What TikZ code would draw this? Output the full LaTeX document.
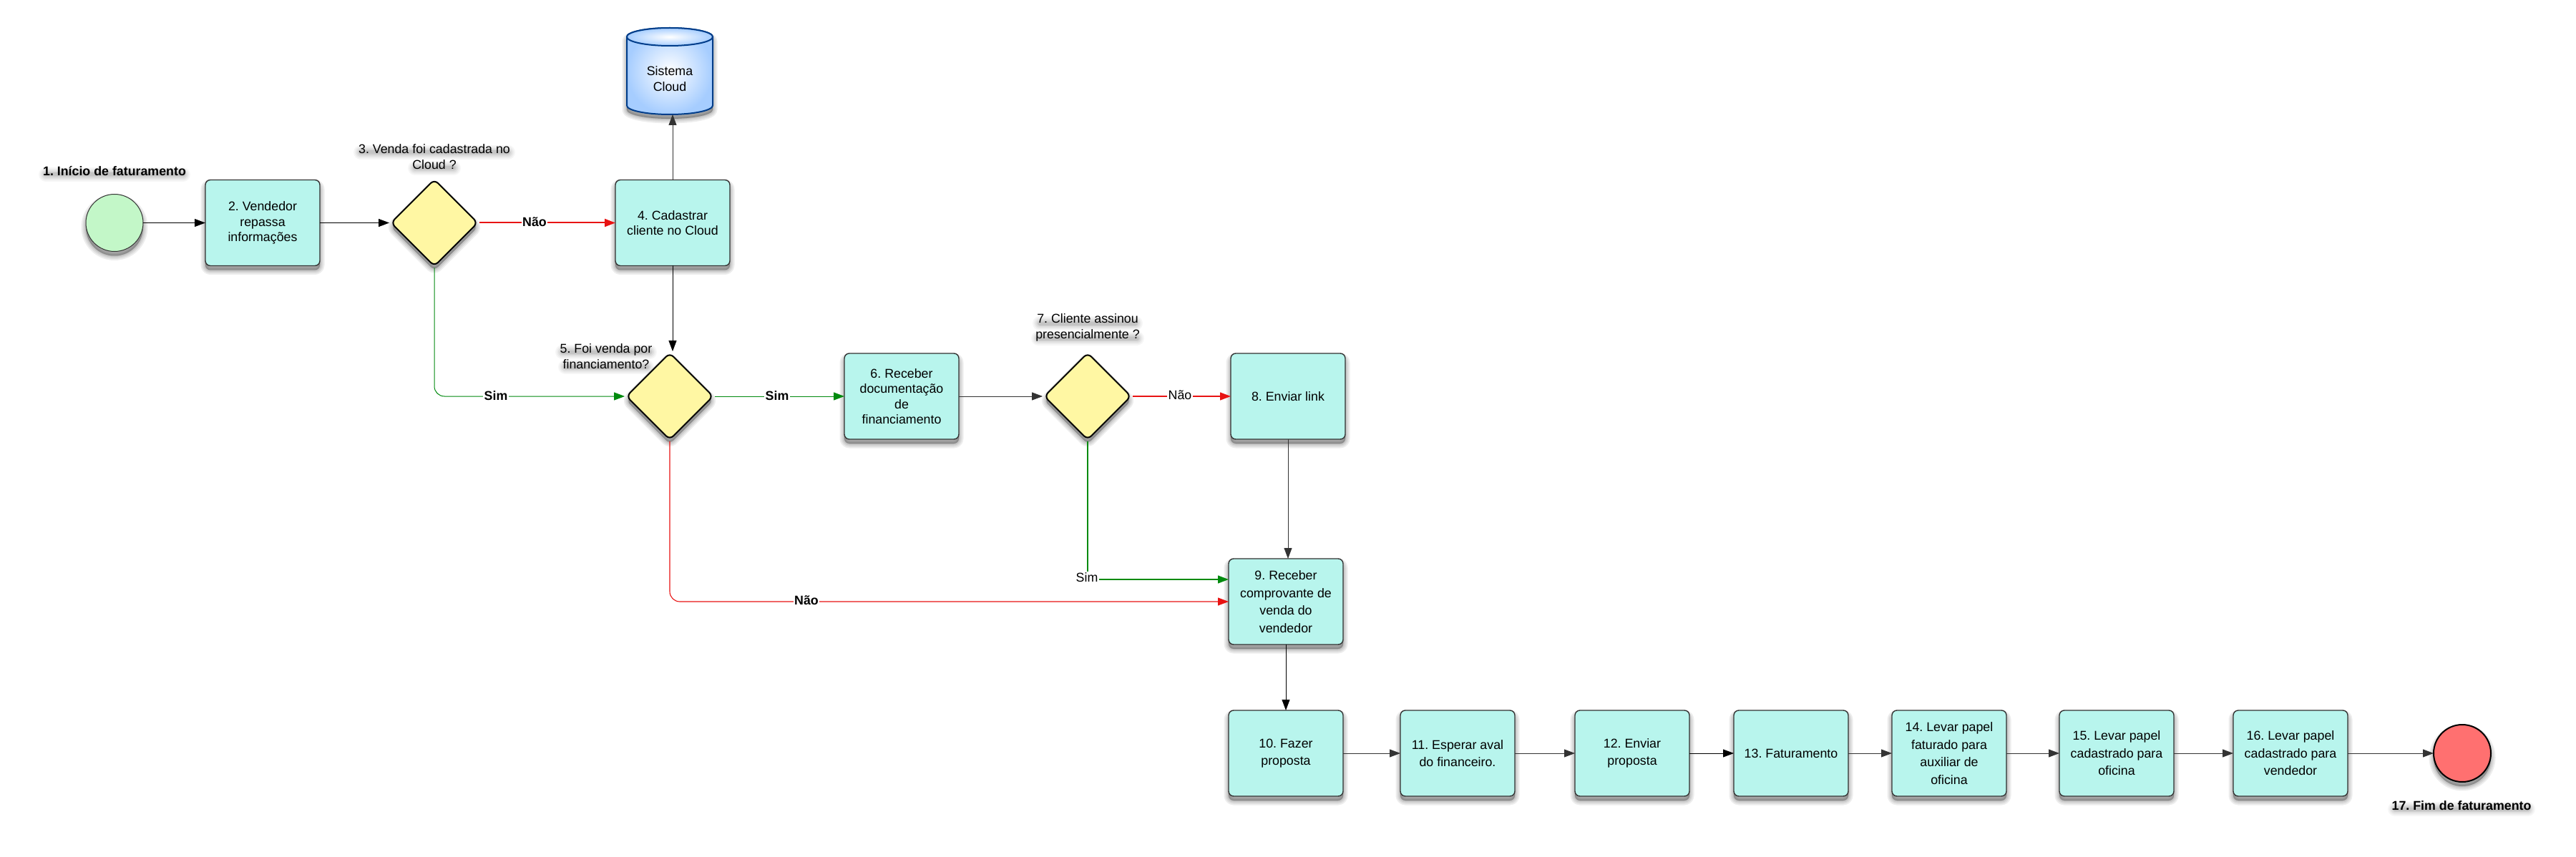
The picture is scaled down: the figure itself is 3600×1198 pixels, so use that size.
\documentclass[tikz,border=0pt]{standalone}
\usepackage{fontspec}
\setmainfont{Liberation Sans}
\frenchspacing
\usetikzlibrary{arrows.meta,shapes.geometric}
\definecolor{boxfill}{HTML}{B8F5ED}
\definecolor{boxline}{HTML}{333333}
\definecolor{decfill}{HTML}{FFF7A3}
\definecolor{startfill}{HTML}{C3F7C8}
\definecolor{endfill}{HTML}{FF7070}
\definecolor{cylline}{HTML}{003D8A}
\definecolor{cylfill}{HTML}{A6CDFF}
\definecolor{lnred}{HTML}{E81313}
\definecolor{lngreen}{HTML}{008A0E}
\newcommand{\hazeln}[3]{%
  \foreach \hw/\hop in {10pt/.035,8pt/.04,6pt/.05,4pt/.06,2.5pt/.06}{%
    \draw[black,opacity=\hop,line width=\hw,line cap=round] (#1,#3+5) -- (#2,#3+5);}}
\tikzset{
  softshadow/.style={
    preaction={draw=black,fill=black,opacity=.07,line width=6.5pt,line join=round,transform canvas={yshift=-3pt}},
    preaction={draw=black,fill=black,opacity=.07,line width=4.5pt,line join=round,transform canvas={yshift=-3pt}},
    preaction={draw=black,fill=black,opacity=.08,line width=2.5pt,line join=round,transform canvas={yshift=-3pt}},
    preaction={draw=black,fill=black,opacity=.08,line width=.8pt,line join=round,transform canvas={yshift=-3pt}}},
  every node/.style={outer sep=0pt,font=\fontsize{8.9}{10.75}\selectfont},
  boxn/.style={rectangle,rounded corners=3.5pt,draw=boxline,line width=.7pt,fill=boxfill,
    minimum width=80pt,minimum height=60pt,align=center,inner sep=0pt,softshadow},
  widelead/.style={font=\fontsize{8.9}{12.3}\selectfont},
  dec/.style={diamond,aspect=1,rounded corners=3.5pt,draw=black,line width=1pt,fill=decfill,
    minimum width=60.5pt,minimum height=60.5pt,inner sep=0pt,softshadow},
  txt/.style={align=center,inner sep=0pt},
  txtb/.style={txt,font=\fontsize{8.9}{10.75}\selectfont\bfseries},
  lbl/.style={fill=white,inner sep=.6pt},
  lblb/.style={lbl,font=\fontsize{8.9}{10.75}\selectfont\bfseries},
  conn/.style={-{Triangle[length=7.5pt,width=5.5pt]},draw=#1,line width=.45pt},
  conn/.default=boxline,
  fromd/.style={shorten <=1.2pt},
  tod/.style={shorten >=1.2pt},
}
\begin{document}
\begin{tikzpicture}[x=0.5pt,y=-0.5pt]
\useasboundingbox[fill=white] (0,0) rectangle (3600,1198);

% cylinder
\path[softshadow] (876,51.5) -- (876,147.5) arc[start angle=180,end angle=0,x radius=60,y radius=12.5] -- (996,51.5) arc[start angle=0,end angle=-180,x radius=60,y radius=12.5] -- cycle;
\path[draw=cylline,line width=1pt,inner color=white,outer color=cylfill,shade] (876,51.5) -- (876,147.5) arc[start angle=180,end angle=0,x radius=60,y radius=12.5] -- (996,51.5) arc[start angle=0,end angle=-180,x radius=60,y radius=12.5] -- cycle;
\path[draw=cylline,line width=1pt,inner color=white,outer color=cylfill,shade] (936,51.5) ellipse[x radius=60,y radius=12.5];
\node[align=center,inner sep=0pt,minimum width=60pt,minimum height=50pt] (cl) at (936,110) {Sistema\\Cloud};

% text shadows
\hazeln{64}{256}{239}
\hazeln{504}{710}{208}
\hazeln{580}{634}{230}
\hazeln{786}{908}{487}
\hazeln{790}{904}{508}
\hazeln{1453}{1587}{447}
\hazeln{1451}{1589}{468}
\hazeln{3347}{3533}{1126}

% nodes
\node[circle,draw=boxline,line width=.5pt,fill=startfill,minimum size=40pt,inner sep=0pt,softshadow] (s1) at (160,311.5) {};
\node[boxn] (b2) at (367,311.5) {2. Vendedor\\repassa\\informações};
\node[dec] (d3) at (607,311.5) {};
\node[boxn] (b4) at (940,311.5) {4. Cadastrar\\cliente no Cloud};
\node[dec] (d5) at (936,554) {};
\node[boxn] (b6) at (1260,554) {6. Receber\\documentação\\de\\financiamento};
\node[dec] (d7) at (1520,554) {};
\node[boxn] (b8) at (1800,554) {8. Enviar link};
\node[boxn,widelead] (b9) at (1797,841) {9. Receber\\comprovante de\\venda do\\vendedor};
\node[boxn,widelead] (b10) at (1797,1053) {10. Fazer\\proposta};
\node[boxn,widelead] (b11) at (2037,1053) {11. Esperar aval\\do financeiro.};
\node[boxn,widelead] (b12) at (2281,1053) {12. Enviar\\proposta};
\node[boxn,widelead] (b13) at (2503,1053) {13. Faturamento};
\node[boxn,widelead] (b14) at (2724,1053) {14. Levar papel\\faturado para\\auxiliar de\\oficina};
\node[boxn,widelead] (b15) at (2958,1053) {15. Levar papel\\cadastrado para\\oficina};
\node[boxn,widelead] (b16) at (3201,1053) {16. Levar papel\\cadastrado para\\vendedor};
\node[circle,draw=black,line width=1pt,fill=endfill,minimum size=40pt,inner sep=0pt,softshadow] (e17) at (3441,1053) {};

% free ends
\coordinate (g9) at (1717,810);
\coordinate (r9) at (1717,841);

% connectors
\draw[conn=black] (s1) -- (b2);
\draw[conn=black,tod] (b2) -- (d3.west);
\draw[conn=lnred,line width=1pt,fromd] (d3.east) -- (b4.west);
\draw[conn=lngreen,line width=.5pt,rounded corners=7pt,fromd,tod] (d3.south) |- (d5.west);
\draw[conn] (b4.north) -- (b4.north |- cl.south);
\draw[conn=black,tod] (b4.south) -- (b4.south |- d5.north);
\draw[conn=lngreen,line width=.5pt,fromd] (d5.east) -- (d5.east -| b6.west);
\draw[conn,tod] (b6.east |- d7.west) -- (d7.west);
\draw[conn=lnred,line width=.6pt,fromd] (d7.east) -- (b8.west);
\draw[conn] (b8.south) -- (b8.south |- b9.north);
\draw[conn=lngreen,line width=.6pt,fromd] (d7.south) |- (g9);
\draw[conn=lnred,line width=.55pt,rounded corners=7pt,fromd] (d5.south) |- (r9);
\draw[conn=black] (b9.south) -- (b10.north);
\draw[conn] (b10) -- (b11);
\draw[conn] (b11) -- (b12);
\draw[conn=black] (b12) -- (b13);
\draw[conn] (b13) -- (b14);
\draw[conn] (b14) -- (b15);
\draw[conn] (b15) -- (b16);
\draw[conn] (b16) -- (e17);

% connector labels
\node[lblb] (l3n) at (747,310) {Não};
\node[lblb] (l3s) at (693,553) {Sim};
\node[lblb] (l5s) at (1086,553) {Sim};
\node[lblb] (l5n) at (1127,839) {Não};
\node[lbl] (l7n) at (1649,552) {Não};
\node[lbl] (l7s) at (1519,807) {Sim};

% free labels
\node[txtb] (t1) at (160,239) {1. Início de faturamento};
\node[txt] (t3) at (607,219) {3. Venda foi cadastrada no\\Cloud ?};
\node[txt] (t5) at (847,498) {5. Foi venda por\\financiamento?};
\node[txt] (t7) at (1520,458) {7. Cliente assinou\\presencialmente ?};
\node[txtb] (t17) at (3440,1126) {17. Fim de faturamento};
\end{tikzpicture}
\end{document}
